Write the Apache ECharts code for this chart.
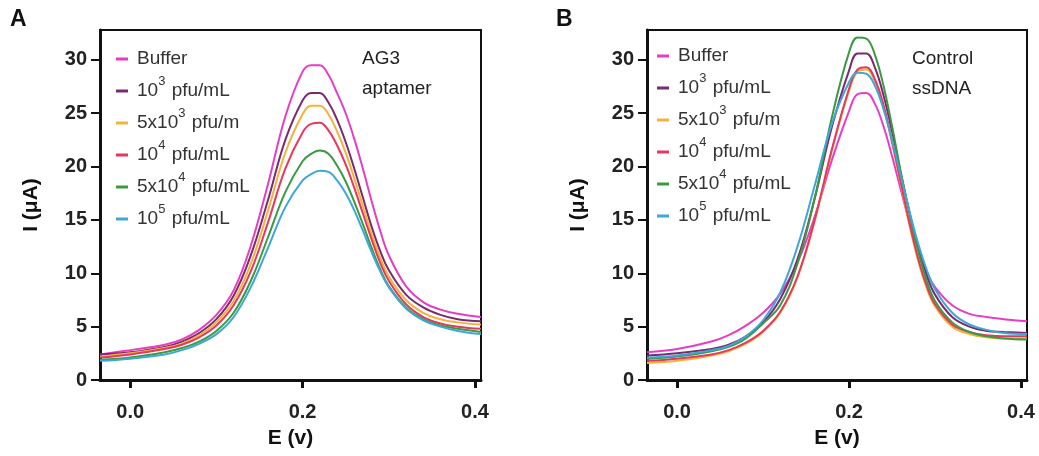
<!DOCTYPE html>
<html>
<head>
<meta charset="utf-8">
<title>DPV</title>
<script src="https://cdn.jsdelivr.net/npm/echarts@6/dist/echarts.min.js"></script>
<style>html,body{margin:0;background:#fff}#main{width:1039px;height:456px}</style>
</head>
<body>
<div id="main"></div>
<script>
// potential (V)
var potential=[-0.035,0,0.04,0.06,0.08,0.10,0.12,0.14,0.16,0.18,0.20,0.21,0.22,0.23,0.24,0.25,0.26,0.27,0.28,0.29,0.30,0.32,0.34,0.36,0.38,0.407];
var seriesNames=['Buffer','10^3 pfu/mL','5x10^3 pfu/m','10^4 pfu/mL','5x10^4 pfu/mL','10^5 pfu/mL'];
var colors=['#e53ec4','#7a2b70','#f2b33c','#e6385e','#3a9a42','#3ea7d8'];
var yTicks=[0,5,10,15,20,25,30];
var xTicks=[0,0.2,0.4];

// panel A : AG3 aptamer (µA)
var aBuffer=[2.4,2.8,3.3,3.8,4.7,6.1,8.4,12.6,18.4,24.7,28.9,29.5,29.5,28.6,26.9,25.0,22.6,19.8,16.8,14.0,11.7,8.8,7.3,6.6,6.2,5.9];
var a1e3=[2.4,2.6,3.1,3.6,4.4,5.7,7.9,11.7,16.9,22.5,26.2,26.9,26.9,26.0,24.4,22.3,19.8,17.1,14.4,12.1,10.3,8.0,6.8,6.1,5.7,5.5];
var a5e3=[2.2,2.5,3.0,3.4,4.2,5.4,7.4,10.9,15.9,21.3,24.9,25.7,25.7,24.9,23.3,21.3,18.9,16.3,13.7,11.5,9.7,7.5,6.3,5.7,5.4,5.2];
var a1e4=[2.1,2.4,2.9,3.3,4.0,5.1,7.0,10.2,14.8,19.8,23.2,24.0,24.1,23.4,22.0,20.2,18.0,15.6,13.2,11.0,9.3,7.1,5.9,5.3,5.0,4.8];
var a5e4=[1.9,2.1,2.6,3.0,3.6,4.6,6.3,9.3,13.4,17.6,20.5,21.2,21.5,21.2,20.1,18.6,16.7,14.6,12.4,10.4,8.8,6.8,5.7,5.1,4.8,4.5];
var a1e5=[1.8,2.0,2.4,2.8,3.4,4.3,5.9,8.7,12.4,16.2,18.7,19.3,19.6,19.5,18.7,17.5,15.9,14.0,12.0,10.2,8.7,6.7,5.6,5.0,4.6,4.3];

// panel B : control ssDNA (µA)
var bBuffer=[2.6,2.9,3.6,4.2,5.1,6.3,8.1,11.0,15.3,20.6,25.2,26.8,26.9,25.9,23.8,21.0,17.9,14.9,12.3,10.2,8.7,7.0,6.2,5.9,5.7,5.5];
var b1e3=[2.3,2.5,2.9,3.3,4.1,5.4,7.6,11.3,17.0,23.7,29.0,30.6,30.6,29.3,26.7,23.3,19.4,15.8,12.5,9.9,8.0,5.9,5.0,4.6,4.5,4.4];
var b5e3=[1.6,1.8,2.3,2.7,3.4,4.5,6.3,9.6,14.9,21.5,27.1,28.9,29.1,28.0,25.6,22.2,18.4,14.6,11.3,8.7,6.9,5.0,4.3,4.0,3.9,3.9];
var b1e4=[1.8,2.0,2.4,2.8,3.5,4.6,6.4,9.7,15.0,21.6,27.3,29.1,29.3,28.2,25.8,22.4,18.6,14.8,11.5,8.9,7.1,5.2,4.5,4.2,4.1,4.1];
var b5e4=[2.0,2.2,2.7,3.1,3.9,5.3,7.0,10.9,17.0,24.6,30.7,32.1,32.0,30.5,27.6,23.8,19.6,15.8,12.2,9.4,7.4,5.4,4.5,4.1,3.9,3.8];
var b1e5=[2.1,2.3,2.8,3.2,4.1,5.6,8.2,12.5,18.2,24.0,27.9,28.8,28.7,27.6,25.4,22.5,19.2,15.9,12.9,10.4,8.5,6.3,5.2,4.7,4.4,4.3];

var panelA=[aBuffer,a1e3,a5e3,a1e4,a5e4,a1e5];
var panelB=[bBuffer,b1e3,b5e3,b1e4,b5e4,b1e5];

var font='"Liberation Sans", Arial, sans-serif';
var myChart=echarts.init(document.getElementById('main'));

function pairs(vals){
	return potential.map(function(x,i){return [x,vals[i]];});
}

function xAx(idx){
	return {
		type:'value', gridIndex:idx, min:-0.035, max:0.407,
		name:'E (v)', nameLocation:'middle', nameGap:48,
		nameTextStyle:{fontFamily:font,fontWeight:'bold',fontSize:21,color:'#111'},
		splitLine:{show:false},
		axisLine:{onZero:false,lineStyle:{color:'#111',width:3}},
		axisTick:{customValues:xTicks,length:8,lineStyle:{color:'#111',width:3}},
		axisLabel:{customValues:xTicks,margin:22,fontFamily:font,fontWeight:'bold',fontSize:20,color:'#222',
			formatter:function(v){return v.toFixed(1);}}
	};
}
function yAx(idx){
	return {
		type:'value', gridIndex:idx, min:0, max:32.8,
		name:'I (μA)', nameLocation:'middle', nameGap:58,
		nameTextStyle:{fontFamily:font,fontWeight:'bold',fontSize:21,color:'#111'},
		splitLine:{show:false},
		axisLine:{onZero:false,lineStyle:{color:'#111',width:3}},
		axisTick:{customValues:yTicks,length:9,lineStyle:{color:'#111',width:2}},
		axisLabel:{customValues:yTicks,margin:13,fontFamily:font,fontWeight:'bold',fontSize:20,color:'#222'}
	};
}
function legendAt(left,top){
	return {
		orient:'vertical', left:left, top:top, icon:'rect', itemWidth:12, itemHeight:3, itemGap:0,
		data:seriesNames,
		formatter:function(n){return n.replace(/\^(\d)/,'{sup|$1}');},
		textStyle:{fontFamily:font,fontSize:19,color:'#333',lineHeight:32,padding:[0,0,0,4],
			rich:{sup:{fontFamily:font,fontSize:13,color:'#333',lineHeight:13,padding:[0,1,0,0],verticalAlign:'top'}}}
	};
}

var series=[];
[panelA,panelB].forEach(function(panel,p){
	panel.forEach(function(vals,i){
		series.push({
			name:seriesNames[i], type:'line', xAxisIndex:p, yAxisIndex:p,
			data:pairs(vals), smooth:0.4, showSymbol:false, symbol:'none',
			lineStyle:{color:colors[i],width:2}, itemStyle:{color:colors[i]}
		});
	});
});

var option={
	backgroundColor:'#fff',
	animation:false,
	grid:[
		{left:100,top:30,width:381,height:350,show:true,borderColor:'#111',borderWidth:2},
		{left:647,top:30,width:380,height:350,show:true,borderColor:'#111',borderWidth:2}
	],
	xAxis:[xAx(0),xAx(1)],
	yAxis:[yAx(0),yAx(1)],
	legend:[legendAt(111,38),legendAt(652,35)],
	graphic:[
		{type:'text',left:10,top:8,style:{text:'A',font:'bold 23px '+font,fill:'#111'}},
		{type:'text',left:556,top:8,style:{text:'B',font:'bold 23px '+font,fill:'#111'}},
		{type:'text',left:362,top:44,style:{text:'AG3\naptamer',font:'19px '+font,fill:'#222',lineHeight:30}},
		{type:'text',left:912,top:44,style:{text:'Control\nssDNA',font:'19px '+font,fill:'#222',lineHeight:30}}
	],
	series:series
};
myChart.setOption(option);
</script>
</body>
</html>
